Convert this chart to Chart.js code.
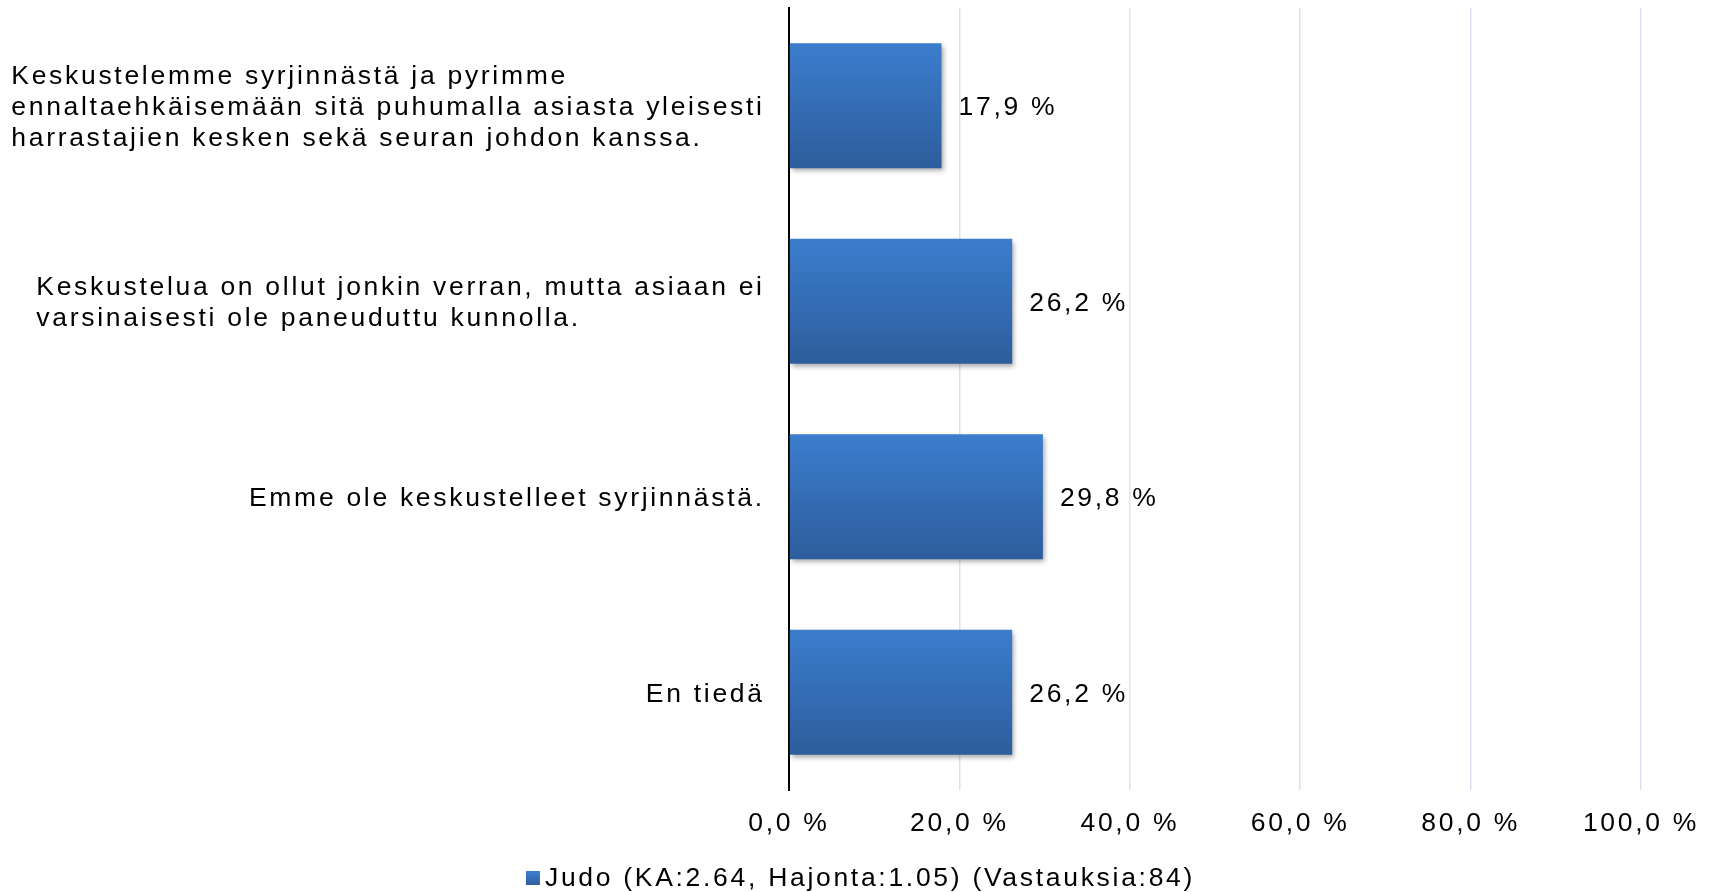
<!DOCTYPE html>
<html>
<head>
<meta charset="utf-8">
<script src="https://cdn.jsdelivr.net/npm/chart.js@4/dist/chart.umd.min.js"></script>
<style>
  html, body { margin: 0; padding: 0; background: #fff; }
  canvas { display: block; }
</style>
</head>
<body>
<canvas id="chart" width="1715" height="892"></canvas>
<script>
var categories = [
  ['Keskustelemme syrjinnästä ja pyrimme', 'ennaltaehkäisemään sitä puhumalla asiasta yleisesti', 'harrastajien kesken sekä seuran johdon kanssa.'],
  ['Keskustelua on ollut jonkin verran, mutta asiaan ei', 'varsinaisesti ole paneuduttu kunnolla.'],
  ['Emme ole keskustelleet syrjinnästä.'],
  ['En tiedä']
];
var values = [17.9, 26.2, 29.8, 26.2];
var seriesName = 'Judo (KA:2.64, Hajonta:1.05) (Vastauksia:84)';
var xTicks = [0, 20, 40, 60, 80, 100];

var FONT = '"Liberation Sans", Arial, sans-serif';
var FONT_SIZE = 26.5;
var SPACING = 2.7;
var BAR_PCT = 0.64;
var TOP_COLOR = '#3B7DCE';
var BOTTOM_COLOR = '#2D5D9C';

function pct(v) {
  return v.toFixed(1).replace('.', ',') + ' %';
}

function textSetup(ctx) {
  ctx.letterSpacing = SPACING + 'px';
  ctx.font = FONT_SIZE + 'px ' + FONT;
  ctx.fillStyle = '#000';
}

// letter spacing for everything drawn on the canvas
var spacingPlugin = {
  id: 'spacing',
  beforeLayout: function (chart) { chart.ctx.letterSpacing = SPACING + 'px'; },
  beforeDraw: function (chart) { chart.ctx.letterSpacing = SPACING + 'px'; }
};

// soft shadow under the bars
var shadowPlugin = {
  id: 'barShadow',
  beforeDatasetsDraw: function (chart) {
    var ctx = chart.ctx;
    ctx.save();
    ctx.shadowColor = 'rgba(0,0,0,0.35)';
    ctx.shadowBlur = 5;
    ctx.shadowOffsetX = 2;
    ctx.shadowOffsetY = 3;
  },
  afterDatasetsDraw: function (chart) {
    chart.ctx.restore();
  }
};

// value labels right of the bars
var valuePlugin = {
  id: 'values',
  afterDatasetsDraw: function (chart) {
    var ctx = chart.ctx;
    var meta = chart.getDatasetMeta(0);
    ctx.save();
    textSetup(ctx);
    ctx.textAlign = 'left';
    ctx.textBaseline = 'middle';
    meta.data.forEach(function (bar, i) {
      ctx.fillText(pct(values[i]), bar.x + 17, bar.y + 2);
    });
    ctx.restore();
  }
};

// category labels: lines left-aligned, block right-aligned to the axis
var catPlugin = {
  id: 'catLabels',
  afterDraw: function (chart) {
    var ctx = chart.ctx;
    var yScale = chart.scales.y;
    var right = chart.chartArea.left - 27 + SPACING;
    var lh = 30.6;
    ctx.save();
    textSetup(ctx);
    ctx.textAlign = 'left';
    ctx.textBaseline = 'middle';
    categories.forEach(function (lines, i) {
      var y = yScale.getPixelForValue(i) + 2;
      var w = 0;
      lines.forEach(function (t) { w = Math.max(w, ctx.measureText(t).width); });
      var x = right - w;
      lines.forEach(function (t, j) {
        ctx.fillText(t, x, y + (j - (lines.length - 1) / 2) * lh);
      });
    });
    ctx.restore();
  }
};

// legend centred on the whole canvas, small gap between box and text
var legendPlugin = {
  id: 'bottomLegend',
  afterDraw: function (chart) {
    var ctx = chart.ctx;
    ctx.save();
    textSetup(ctx);
    ctx.textAlign = 'left';
    ctx.textBaseline = 'middle';
    var w = ctx.measureText(seriesName).width;
    var total = 14 + 5 + w;
    var x = chart.width / 2 + 3 - total / 2;
    var y = 879;
    var g = ctx.createLinearGradient(0, y - 7, 0, y + 7);
    g.addColorStop(0, TOP_COLOR);
    g.addColorStop(1, BOTTOM_COLOR);
    ctx.fillStyle = g;
    ctx.fillRect(x, y - 8, 14, 14);
    ctx.fillStyle = '#000';
    ctx.fillText(seriesName, x + 19, y);
    ctx.restore();
  }
};

var ctx = document.getElementById('chart').getContext('2d');
var myChart = new Chart(ctx, {
  type: 'bar',
  data: {
    labels: categories,
    datasets: [{
      label: seriesName,
      data: values,
      backgroundColor: function (c) {
        var chart = c.chart;
        var area = chart.chartArea;
        if (!area || c.dataIndex === undefined) return '#3570BD';
        var y = chart.scales.y.getPixelForValue(c.dataIndex);
        var half = (area.bottom - area.top) / categories.length * BAR_PCT / 2;
        var g = chart.ctx.createLinearGradient(0, y - half, 0, y + half);
        g.addColorStop(0, TOP_COLOR);
        g.addColorStop(1, BOTTOM_COLOR);
        return g;
      },
      borderWidth: 0,
      barPercentage: BAR_PCT,
      categoryPercentage: 1
    }]
  },
  options: {
    indexAxis: 'y',
    responsive: false,
    animation: false,
    devicePixelRatio: 1,
    layout: { padding: { top: 8, right: 0, left: 0, bottom: 55 } },
    scales: {
      x: {
        min: 0,
        max: 100,
        afterBuildTicks: function (scale) {
          scale.ticks = xTicks.map(function (v) { return { value: v }; });
        },
        afterFit: function (scale) {
          scale.height = 47;
          scale.paddingRight = 74;
        },
        grid: { color: '#D9E2EE', lineWidth: 1.5, drawTicks: false },
        border: { display: false },
        ticks: {
          padding: 18,
          color: '#000',
          font: { family: FONT, size: FONT_SIZE },
          callback: function (v) { return pct(v); }
        }
      },
      y: {
        grid: { display: false },
        border: { display: true, color: '#000', width: 2 },
        ticks: { display: false },
        afterFit: function (scale) { scale.width = 789; }
      }
    },
    plugins: {
      legend: { display: false },
      tooltip: { enabled: false }
    }
  },
  plugins: [spacingPlugin, shadowPlugin, valuePlugin, catPlugin, legendPlugin]
});
</script>
</body>
</html>
